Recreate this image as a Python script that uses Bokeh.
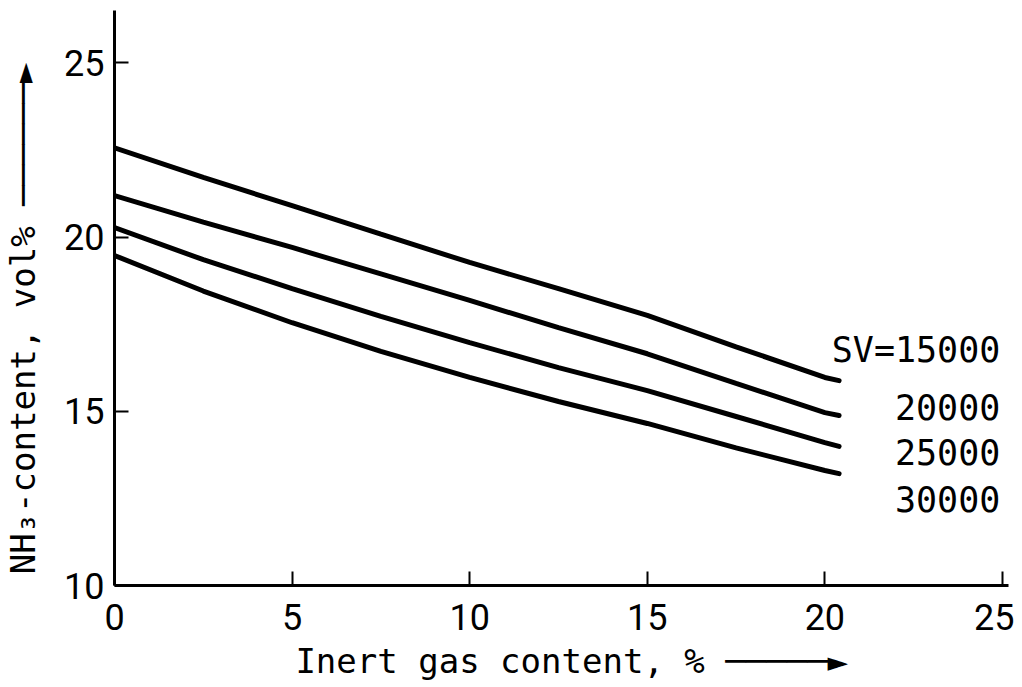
from bokeh.plotting import figure
from bokeh.models import Range1d, FixedTicker, Label
from bokeh.embed import file_html
from bokeh.resources import INLINE

# ---- data ----
inert_gas = [0, 2.5, 5, 7.5, 10, 12.5, 15, 17.5, 20, 20.4]
nh3_sv15000 = [22.56, 21.71, 20.90, 20.08, 19.27, 18.52, 17.75, 16.85, 15.97, 15.88]
nh3_sv20000 = [21.19, 20.43, 19.70, 18.94, 18.18, 17.40, 16.65, 15.80, 14.96, 14.88]
nh3_sv25000 = [20.27, 19.35, 18.52, 17.72, 16.97, 16.25, 15.59, 14.85, 14.10, 13.99]
nh3_sv30000 = [19.47, 18.45, 17.54, 16.72, 15.97, 15.28, 14.65, 13.95, 13.30, 13.21]
sv_labels = ["SV=15000", "20000", "25000", "30000"]
x_ticks = [0, 5, 10, 15, 20, 25]
y_ticks = [10, 15, 20, 25]

series = [nh3_sv15000, nh3_sv20000, nh3_sv25000, nh3_sv30000]

TICK_FONT = "Roboto"
LABEL_FONT = "DejaVu Sans Mono"

p = figure(frame_width=894, frame_height=575,
           x_range=Range1d(0, 25.17), y_range=Range1d(10, 26.5),
           output_backend="svg", toolbar_location=None,
           min_border_left=114, min_border_right=6, min_border_top=10,
           min_border_bottom=84)
p.outline_line_color = None
p.grid.visible = False
p.background_fill_color = "white"
p.border_fill_color = "white"

for ys in series:
    p.line(inert_gas, ys, line_color="black", line_width=5, line_cap="round")

# legend-like labels at the right
label_pos = [(24.94, 16.77), (24.94, 15.13), (24.94, 13.84), (24.94, 12.47)]
for txt, (lx, ly) in zip(sv_labels, label_pos):
    p.add_layout(Label(x=lx, y=ly, text=txt, text_align="right",
                       text_baseline="middle", text_font=LABEL_FONT,
                       text_font_size="35px", text_color="black"))

for ax in (p.xaxis, p.yaxis):
    ax.axis_line_width = 3
    ax.axis_line_color = "black"
    ax.major_tick_in = 14
    ax.major_tick_out = 0
    ax.major_tick_line_width = 2
    ax.minor_tick_line_color = None
    ax.major_label_text_font = TICK_FONT
    ax.major_label_text_font_size = "36px"
    ax.major_label_text_color = "black"
    ax.axis_label_text_font = LABEL_FONT
    ax.axis_label_text_font_style = "normal"
    ax.axis_label_text_font_size = "34px"
    ax.axis_label_text_color = "black"

p.xaxis.ticker = FixedTicker(ticks=x_ticks)
p.yaxis.ticker = FixedTicker(ticks=y_ticks)
p.xaxis.major_label_standoff = 18
p.yaxis.major_label_standoff = 10
p.xaxis.axis_label = "\u00a0Inert gas content, % \u2500\u2500\u2500\u2500\u2500\u25ba"
p.yaxis.axis_label = "NH\u2083-content, vol% \u2500\u2500\u2500\u2500\u2500\u2500\u25ba\u00a0\u00a0"
p.xaxis.axis_label_standoff = 8
p.yaxis.axis_label_standoff = 18

open("out.html", "w").write(file_html(p, INLINE))
